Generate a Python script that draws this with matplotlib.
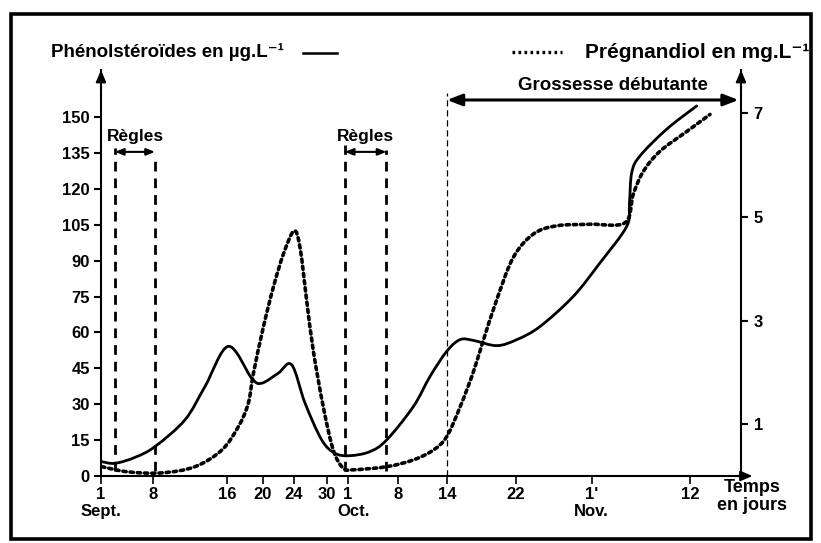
import matplotlib
matplotlib.use("Agg")
import numpy as np
import matplotlib.pyplot as plt
from matplotlib.patches import Rectangle, PathPatch
from matplotlib.path import Path
from matplotlib.lines import Line2D

FONT = ['Liberation Sans', 'DejaVu Sans']
plt.rcParams['font.family'] = FONT
plt.rcParams['font.weight'] = 'bold'

# ---------------- data ----------------
# x = day index (1 = 1 Sept, 31 = 1 Oct, 62 = 1 Nov)
phenol_day = [1.09, 2.71, 5.16, 7.6, 11.27, 13.71, 16.56, 19.42, 20.65, 22.67, 24.31,
              25.94, 27.98, 29.6, 31.44, 33.88, 35.93, 39.18, 41.22, 43.26, 44.89,
              46.5, 49.37, 51.82, 54.67, 58.74, 62.0, 65.27, 65.6, 65.88, 66.89,
              70.16, 73.82]
phenol_ugL = [6.0, 5.3, 7.8, 12.3, 23.5, 37.4, 54.2, 40.9, 38.8, 43.0, 46.5,
              30.5, 15.1, 9.5, 8.5, 10.2, 15.1, 29.0, 41.6, 52.1, 57.0,
              56.7, 54.5, 57.0, 62.5, 75.1, 89.1, 104.4, 114.0, 126.8, 133.8,
              145.0, 154.7]

preg_day = [1.09, 4.3, 8.42, 12.49, 15.76, 17.78, 19.0, 19.62, 20.84, 22.06, 23.29,
            24.59, 25.33, 26.15, 26.95, 28.18, 29.4, 30.62, 31.84, 35.93, 39.18,
            41.62, 43.26, 44.89, 46.5, 47.7, 49.37, 51.4, 53.85, 56.7, 60.78,
            65.06, 66.07, 67.3, 69.34, 72.6, 75.45]
preg_mgL = [0.18, 0.08, 0.06, 0.18, 0.5, 0.95, 1.4, 1.97, 2.87, 3.64, 4.28,
            4.73, 4.41, 3.38, 2.42, 1.33, 0.5, 0.15, 0.12, 0.18, 0.31,
            0.5, 0.76, 1.33, 2.0, 2.6, 3.4, 4.22, 4.67, 4.83, 4.86,
            4.89, 5.44, 5.88, 6.27, 6.65, 6.98]

x_tick_pos = [1, 7.36, 16.4, 20.8, 24.6, 28.6, 31.2, 37.3, 43.3, 51.7, 61.0, 73.0]
x_tick_labels = ['1', '8', '16', '20', '24', '30', '1', '8', '14', '22', "1'", '12']
month_pos = [1.0, 31.9, 60.9]
month_labels = ['Sept.', 'Oct.', 'Nov.']
left_ticks = list(range(0, 151, 15))
right_ticks = [1, 3, 5, 7]

regles_periods = [(2.7, 7.6), (30.8, 35.9)]
grossesse_start = 43.3


def smooth_path(xs, ys):
    """Catmull-Rom curve through the given points, expressed as cubic Beziers."""
    p = np.column_stack([xs, ys]).astype(float)
    p = np.vstack([p[0], p, p[-1]])
    verts = [tuple(p[1])]
    codes = [Path.MOVETO]
    for i in range(1, len(p) - 2):
        c1 = p[i] + (p[i + 1] - p[i - 1]) / 6.0
        c2 = p[i + 1] - (p[i + 2] - p[i]) / 6.0
        verts += [tuple(c1), tuple(c2), tuple(p[i + 1])]
        codes += [Path.CURVE4] * 3
    return Path(verts, codes)


# ---------------- figure ----------------
W, H = 821, 543
fig = plt.figure(figsize=(W / 100, H / 100), dpi=100)


def fx(px):
    return px / W


def fy(py):
    return 1 - py / H


ax_left, ax_right, ax_bottom, ax_top = 101, 741, 476, 70
ax = fig.add_axes([fx(ax_left), fy(ax_bottom), (ax_right - ax_left) / W,
                   (ax_bottom - ax_top) / H])
ax2 = ax.twinx()

XMAX = 1 + (ax_right - ax_left) / 8.18
ax.set_xlim(1, XMAX)
ax.set_ylim(0, (ax_bottom - ax_top) / 2.392)
ax2.set_ylim(0, (ax_bottom - ax_top) / 51.8)

ax.patch.set_alpha(0)
for a in (ax, ax2):
    a.spines['top'].set_visible(False)
    for s in a.spines.values():
        s.set_linewidth(1.5)
ax.spines['right'].set_visible(False)
ax2.spines['left'].set_visible(False)
ax2.spines['bottom'].set_visible(False)

# curves
ax.add_patch(PathPatch(smooth_path(phenol_day, phenol_ugL), fill=False,
                       edgecolor='black', lw=2.0, capstyle='round',
                       joinstyle='round', zorder=5))
ax2.add_patch(PathPatch(smooth_path(preg_day, preg_mgL), fill=False,
                        edgecolor='black', lw=2.6, linestyle=(0, (0.9, 1.1)),
                        capstyle='round', zorder=5))

# ticks
ax.set_yticks(left_ticks)
ax.set_yticklabels([str(v) for v in left_ticks])
ax2.set_yticks(right_ticks)
ax2.set_yticklabels([str(v) for v in right_ticks])
ax.set_xticks(x_tick_pos)
ax.set_xticklabels(x_tick_labels)
ax.tick_params(axis='y', direction='out', length=5, width=1.5, labelsize=12, pad=3)
ax2.tick_params(axis='y', direction='out', length=5, width=1.5, labelsize=12, pad=4)
ax.tick_params(axis='x', direction='out', length=6, width=1.2, labelsize=12, pad=2)
for lab in ax.get_xticklabels() + ax.get_yticklabels() + ax2.get_yticklabels():
    lab.set_fontweight('bold')

# month names under the first-day ticks
for pos, lab in zip(month_pos, month_labels):
    ax.annotate(lab, xy=(pos, 0), xycoords=('data', 'axes fraction'),
                xytext=(0, -20), textcoords='offset points', ha='center', va='top',
                fontsize=12, fontweight='bold', annotation_clip=False)

# axis arrows
arrow_kw = dict(arrowstyle='-|>,head_length=0.7,head_width=0.3', color='black',
                lw=1.5, shrinkA=0, shrinkB=0)
ax.annotate('', xy=(0, 1.0), xytext=(0, 0.95), xycoords='axes fraction',
            arrowprops=arrow_kw, annotation_clip=False)
ax.annotate('', xy=(1, 1.0), xytext=(1, 0.95), xycoords='axes fraction',
            arrowprops=arrow_kw, annotation_clip=False)
ax.annotate('', xy=(1.018, 0), xytext=(0.99, 0), xycoords='axes fraction',
            arrowprops=arrow_kw, annotation_clip=False)

# Règles markers
regles_tops = [(137.1, 133.4), (138.4, 136.3)]
for (a, b), (ta, tb) in zip(regles_periods, regles_tops):
    ax.plot([a, a], [2, ta], color='black', lw=2.0, linestyle=(0, (3.5, 2.5)), zorder=4)
    ax.plot([b, b], [2, tb], color='black', lw=2.0, linestyle=(0, (3.5, 2.5)), zorder=4)
    ax.annotate('', xy=(b, 135.5), xytext=(a, 135.5), xycoords='data',
                arrowprops=dict(arrowstyle='<|-|>,head_length=0.5,head_width=0.2',
                                color='black', lw=1.5, shrinkA=0, shrinkB=0))
    ax.text((a + b) / 2, 138.8, 'Règles', ha='center', va='bottom', fontsize=12.5,
            fontweight='bold')

# Grossesse débutante
ax.plot([grossesse_start, grossesse_start], [0, 160], color='black', lw=0.9,
        linestyle=(0, (5, 3)), zorder=4, clip_on=False)
ax.annotate('', xy=(XMAX - 0.3, 157.2), xytext=(grossesse_start, 157.2), xycoords='data',
            arrowprops=dict(arrowstyle='<|-|>,head_length=0.9,head_width=0.35',
                            color='black', lw=2.2, shrinkA=0, shrinkB=0),
            annotation_clip=False)
ax.text(63.6, 159.5, 'Grossesse débutante', ha='center', va='bottom', fontsize=13.5,
        fontweight='bold')

# axis titles
fig.text(fx(51), fy(52), 'Phénolstéroïdes en µg.L⁻¹', ha='left', va='center',
         fontsize=13.5, fontweight='bold', family=FONT)
fig.add_artist(Line2D([fx(303), fx(337)], [fy(53), fy(53)], color='black', lw=1.8,
                      transform=fig.transFigure))
fig.add_artist(Line2D([fx(512), fx(562)], [fy(52), fy(52)], color='black', lw=2.4,
                      linestyle=(0, (0.8, 1.0)), transform=fig.transFigure))
fig.text(fx(809), fy(52), 'Prégnandiol en mg.L⁻¹', ha='right', va='center',
         fontsize=15, fontweight='bold', family=FONT)
fig.text(fx(752), fy(479), 'Temps\nen jours', ha='center', va='top', fontsize=13,
         fontweight='bold', linespacing=1.05)

# outer frame
fig.add_artist(Rectangle((fx(11), fy(539)), (811 - 11) / W, (539 - 14) / H,
                         transform=fig.transFigure, fill=False, lw=2.6,
                         edgecolor='black'))

fig.savefig('out.png', dpi=100)
